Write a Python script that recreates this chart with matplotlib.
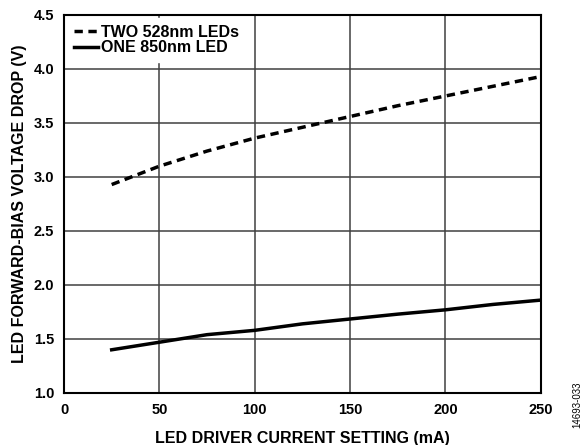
import matplotlib
matplotlib.use("Agg")
import matplotlib.pyplot as plt

plt.rcParams['font.family'] = ['Liberation Sans', 'DejaVu Sans']
plt.rcParams['font.weight'] = 'bold'

current_ma = [25, 50, 75, 100, 125, 150, 175, 200, 225, 250]
green_two_v = [2.93, 3.10, 3.24, 3.36, 3.46, 3.56, 3.66, 3.75, 3.84, 3.93]
ir_one_v = [1.40, 1.47, 1.54, 1.58, 1.64, 1.685, 1.73, 1.77, 1.82, 1.86]
x_ticks = [0, 50, 100, 150, 200, 250]
y_ticks = [1.0, 1.5, 2.0, 2.5, 3.0, 3.5, 4.0, 4.5]

fig = plt.figure(figsize=(5.84, 4.45), dpi=100)
ax = fig.add_axes([0.1096, 0.1169, 0.8164, 0.8494])

ax.plot(current_ma, green_two_v, color='black', lw=2.5, ls=(0, (2.4, 1.6)),
        label='TWO 528nm LEDs', zorder=3)
ax.plot(current_ma, ir_one_v, color='black', lw=2.5, label='ONE 850nm LED', zorder=3)

ax.set_xlim(0, 250)
ax.set_ylim(1.0, 4.5)
ax.set_xticks(x_ticks)
ax.set_yticks(y_ticks)
ax.set_yticklabels([f'{v:.1f}' for v in y_ticks])
ax.grid(True, color='#404040', lw=1.1)
ax.set_axisbelow(True)
for s in ax.spines.values():
    s.set_linewidth(1.5)
ax.tick_params(length=0, labelsize=10.5, pad=7)
for lab in ax.get_xticklabels() + ax.get_yticklabels():
    lab.set_fontweight('bold')

ax.set_xlabel('LED DRIVER CURRENT SETTING (mA)', fontsize=11.5, fontweight='bold', labelpad=10)
ax.set_ylabel('LED FORWARD-BIAS VOLTAGE DROP (V)', fontsize=11.5, fontweight='bold', labelpad=5)

leg = ax.legend(loc='upper left', frameon=True, fancybox=False, fontsize=11.5,
                handlelength=1.5, handletextpad=0.2, borderpad=0.4,
                labelspacing=0.05, borderaxespad=0.2)
leg.get_frame().set_edgecolor('white')
leg.get_frame().set_facecolor('white')
leg.get_frame().set_alpha(1.0)
for t in leg.get_texts():
    t.set_fontweight('bold')

fig.text(0.988, 0.09, '14693-033', rotation=90, fontsize=7, fontweight='normal',
         ha='center', va='center')

fig.savefig('out.png', dpi=100)
